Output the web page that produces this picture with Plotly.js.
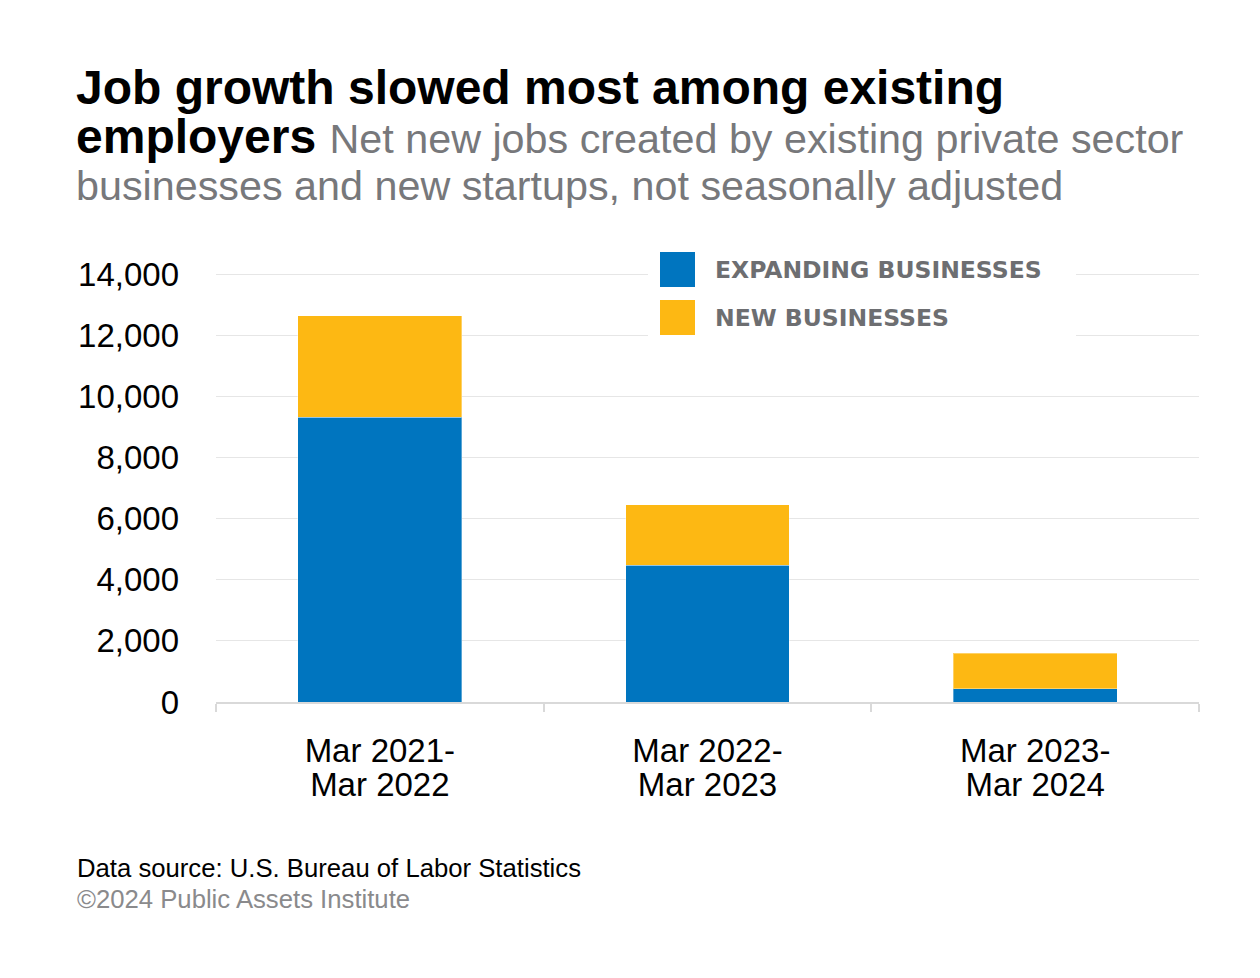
<!DOCTYPE html>
<html>
<head>
<meta charset="utf-8">
<script src="https://cdn.plot.ly/plotly-3.0.1.min.js"></script>
<style>
  html, body { margin: 0; padding: 0; background: #ffffff; }
  #chart { width: 1260px; height: 978px; }
</style>
</head>
<body>
<div id="chart"></div>
<script>
// ---- Data ----
const periods = ["Mar 2021-Mar 2022", "Mar 2022-Mar 2023", "Mar 2023-Mar 2024"];
const labelLine1 = ["Mar 2021-", "Mar 2022-", "Mar 2023-"];
const labelLine2 = ["Mar 2022", "Mar 2023", "Mar 2024"];
const expandingBusinesses = [9320, 4480, 430];
const newBusinesses = [3330, 1970, 1160];
const seriesNames = ["EXPANDING BUSINESSES", "NEW BUSINESSES"];
const yTicks = [0, 2000, 4000, 6000, 8000, 10000, 12000, 14000];

// ---- Geometry helpers (pixel -> paper) ----
const W = 1260, H = 978;
const M = { l: 216, r: 61, t: 272, b: 276 };
const plotW = W - M.l - M.r, plotH = H - M.t - M.b;
const px = x => (x - M.l) / plotW;
const py = y => (H - M.b - y) / plotH;
const yMax = 14000 * plotH / (H - M.b - 274.3);

const BLUE = "#0075bf";
const GOLD = "#fdb813";
const FONT = "Liberation Sans, Arial, sans-serif";

const traces = [
  {
    type: "bar", name: seriesNames[0], x: periods, y: expandingBusinesses,
    marker: { color: BLUE, line: { color: "rgba(255,255,255,0.35)", width: 1 } },
    width: 0.5, hoverinfo: "skip", showlegend: false
  },
  {
    type: "bar", name: seriesNames[1], x: periods, y: newBusinesses,
    marker: { color: GOLD, line: { color: "rgba(255,255,255,0.35)", width: 1 } },
    width: 0.5, hoverinfo: "skip", showlegend: false
  },
  // empty carrier trace so the second-line label axis is drawn
  {
    type: "scatter", mode: "lines", xaxis: "x2", yaxis: "y",
    x: labelLine2.map((_, i) => i), y: labelLine2.map(() => null),
    hoverinfo: "skip", showlegend: false
  }
];

const layout = {
  width: W, height: H,
  margin: M,
  paper_bgcolor: "#ffffff", plot_bgcolor: "#ffffff",
  barmode: "stack",
  showlegend: false,
  font: { family: FONT, color: "#000000" },
  xaxis: {
    type: "category",
    tickvals: periods, ticktext: labelLine1,
    tickson: "boundaries",
    ticks: "outside", ticklen: 8, tickwidth: 2, tickcolor: "#d9d9d9",
    showline: true, linecolor: "#d9d9d9", linewidth: 2,
    showgrid: false, zeroline: false,
    tickfont: { family: FONT, size: 33, color: "#000000" },
    ticklabelstandoff: 18,
    range: [-0.5, 2.5], fixedrange: true
  },
  xaxis2: {
    type: "linear",
    overlaying: "x", anchor: "y", side: "bottom",
    range: [-0.5, 2.5],
    tickvals: labelLine2.map((_, i) => i), ticktext: labelLine2,
    ticks: "", showline: false, showgrid: false, zeroline: false,
    tickfont: { family: FONT, size: 33, color: "#000000" },
    ticklabelstandoff: 60, fixedrange: true
  },
  yaxis: {
    range: [0, yMax],
    tickvals: yTicks, tickformat: ",",
    showgrid: true, gridcolor: "#e6e6e6", gridwidth: 1,
    zeroline: false, showline: false, ticks: "",
    tickfont: { family: FONT, size: 33, color: "#000000" },
    ticklabelstandoff: 36, fixedrange: true
  },
  shapes: [
    { type: "rect", xref: "paper", yref: "paper", layer: "above",
      x0: px(648), x1: px(1076), y0: py(246), y1: py(344),
      fillcolor: "#ffffff", line: { width: 0 } },
    { type: "rect", xref: "paper", yref: "paper", layer: "above",
      x0: px(660), x1: px(695), y0: py(252), y1: py(287),
      fillcolor: BLUE, line: { width: 0 } },
    { type: "rect", xref: "paper", yref: "paper", layer: "above",
      x0: px(660), x1: px(695), y0: py(300), y1: py(335),
      fillcolor: GOLD, line: { width: 0 } }
  ],
  annotations: [
    { xref: "paper", yref: "paper", x: px(713), y: py(270), xanchor: "left", yanchor: "middle",
      showarrow: false, text: "<b>" + seriesNames[0] + "</b>",
      font: { family: "DejaVu Sans, sans-serif", size: 23.5, color: "#6d6e71" } },
    { xref: "paper", yref: "paper", x: px(713), y: py(318), xanchor: "left", yanchor: "middle",
      showarrow: false, text: "<b>" + seriesNames[1] + "</b>",
      font: { family: "DejaVu Sans, sans-serif", size: 23.5, color: "#6d6e71" } },
    // Title lines
    { xref: "paper", yref: "paper", x: px(74), y: py(88), xanchor: "left", yanchor: "middle",
      showarrow: false, align: "left",
      text: "<b>Job growth slowed most among existing</b>",
      font: { family: FONT, size: 48, color: "#000000" } },
    { xref: "paper", yref: "paper", x: px(74), y: py(136), xanchor: "left", yanchor: "middle",
      showarrow: false, align: "left",
      text: "<b>employers</b> <span style='color:#77787b;font-size:41.3px'>Net new jobs created by existing private sector</span>",
      font: { family: FONT, size: 48, color: "#000000" } },
    { xref: "paper", yref: "paper", x: px(74), y: py(186), xanchor: "left", yanchor: "middle",
      showarrow: false, align: "left",
      text: "businesses and new startups, not seasonally adjusted",
      font: { family: FONT, size: 41.3, color: "#77787b" } },
    // Footer
    { xref: "paper", yref: "paper", x: px(75), y: py(868), xanchor: "left", yanchor: "middle",
      showarrow: false, align: "left",
      text: "Data source: U.S. Bureau of Labor Statistics",
      font: { family: FONT, size: 25.7, color: "#000000" } },
    { xref: "paper", yref: "paper", x: px(75), y: py(899), xanchor: "left", yanchor: "middle",
      showarrow: false, align: "left",
      text: "©2024 Public Assets Institute",
      font: { family: FONT, size: 25.7, color: "#8a8a8c" } }
  ]
};

Plotly.newPlot("chart", traces, layout, { displayModeBar: false, staticPlot: true });
</script>
</body>
</html>
